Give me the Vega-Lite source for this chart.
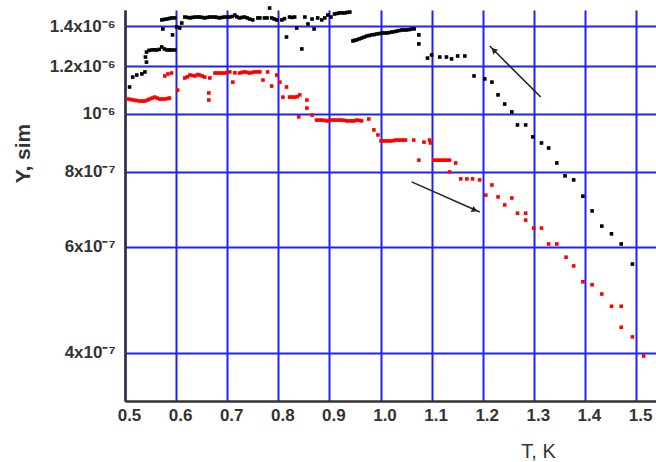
{
  "$schema": "https://vega.github.io/schema/vega-lite/v6.json",
  "autosize": {"type": "none"},
  "width": 531,
  "height": 391,
  "padding": {"left": 125, "top": 10, "right": 0, "bottom": 61},
  "background": "white",
  "config": {"view": {"stroke": null}},
  "datasets": {
    "pts": [
      {"s":"b","T":0.509,"Y":1.108e-6},{"s":"b","T":0.515,"Y":1.151e-6},{"s":"b","T":0.523,"Y":1.160e-6},{"s":"b","T":0.533,"Y":1.165e-6},{"s":"b","T":0.539,"Y":1.174e-6},
      {"s":"b","T":0.542,"Y":1.219e-6},{"s":"b","T":0.540,"Y":1.243e-6},{"s":"b","T":0.542,"Y":1.267e-6},{"s":"b","T":0.552,"Y":1.277e-6},{"s":"b","T":0.562,"Y":1.277e-6},
      {"s":"b","T":0.572,"Y":1.292e-6},{"s":"b","T":0.582,"Y":1.277e-6},{"s":"b","T":0.591,"Y":1.277e-6},{"s":"b","T":0.597,"Y":1.277e-6},
      {"s":"b","T":0.547,"Y":1.275e-6},{"s":"b","T":0.557,"Y":1.278e-6},{"s":"b","T":0.567,"Y":1.280e-6},{"s":"b","T":0.577,"Y":1.282e-6},{"s":"b","T":0.587,"Y":1.277e-6},
      {"s":"b","T":0.572,"Y":1.433e-6},{"s":"b","T":0.582,"Y":1.438e-6},{"s":"b","T":0.591,"Y":1.444e-6},{"s":"b","T":0.597,"Y":1.444e-6},{"s":"b","T":0.577,"Y":1.436e-6},{"s":"b","T":0.587,"Y":1.441e-6},
      {"s":"b","T":0.574,"Y":1.384e-6},{"s":"b","T":0.593,"Y":1.353e-6},{"s":"b","T":0.601,"Y":1.395e-6},{"s":"b","T":0.607,"Y":1.389e-6},{"s":"b","T":0.611,"Y":1.416e-6},
      {"s":"b","T":0.617,"Y":1.449e-6},{"s":"b","T":0.627,"Y":1.444e-6},{"s":"b","T":0.637,"Y":1.449e-6},{"s":"b","T":0.646,"Y":1.449e-6},{"s":"b","T":0.656,"Y":1.444e-6},
      {"s":"b","T":0.666,"Y":1.449e-6},{"s":"b","T":0.676,"Y":1.449e-6},{"s":"b","T":0.685,"Y":1.444e-6},{"s":"b","T":0.695,"Y":1.449e-6},{"s":"b","T":0.705,"Y":1.449e-6},
      {"s":"b","T":0.715,"Y":1.460e-6},{"s":"b","T":0.724,"Y":1.444e-6},{"s":"b","T":0.734,"Y":1.449e-6},{"s":"b","T":0.744,"Y":1.438e-6},{"s":"b","T":0.750,"Y":1.433e-6},
      {"s":"b","T":0.622,"Y":1.447e-6},{"s":"b","T":0.632,"Y":1.447e-6},{"s":"b","T":0.642,"Y":1.449e-6},{"s":"b","T":0.651,"Y":1.447e-6},{"s":"b","T":0.661,"Y":1.447e-6},
      {"s":"b","T":0.671,"Y":1.449e-6},{"s":"b","T":0.680,"Y":1.447e-6},{"s":"b","T":0.690,"Y":1.447e-6},{"s":"b","T":0.700,"Y":1.449e-6},{"s":"b","T":0.710,"Y":1.452e-6},
      {"s":"b","T":0.719,"Y":1.450e-6},{"s":"b","T":0.729,"Y":1.447e-6},{"s":"b","T":0.739,"Y":1.444e-6},
      {"s":"b","T":0.764,"Y":1.444e-6},{"s":"b","T":0.773,"Y":1.444e-6},{"s":"b","T":0.783,"Y":1.500e-6},{"s":"b","T":0.787,"Y":1.444e-6},{"s":"b","T":0.797,"Y":1.433e-6},
      {"s":"b","T":0.760,"Y":1.444e-6},{"s":"b","T":0.778,"Y":1.444e-6},{"s":"b","T":0.792,"Y":1.438e-6},{"s":"b","T":0.812,"Y":1.440e-6},{"s":"b","T":0.827,"Y":1.447e-6},
      {"s":"b","T":0.807,"Y":1.433e-6},{"s":"b","T":0.816,"Y":1.342e-6},{"s":"b","T":0.822,"Y":1.449e-6},{"s":"b","T":0.832,"Y":1.449e-6},{"s":"b","T":0.836,"Y":1.389e-6},
      {"s":"b","T":0.846,"Y":1.282e-6},{"s":"b","T":0.852,"Y":1.449e-6},{"s":"b","T":0.858,"Y":1.411e-6},{"s":"b","T":0.866,"Y":1.438e-6},{"s":"b","T":0.870,"Y":1.384e-6},
      {"s":"b","T":0.877,"Y":1.444e-6},{"s":"b","T":0.885,"Y":1.433e-6},{"s":"b","T":0.891,"Y":1.444e-6},{"s":"b","T":0.897,"Y":1.460e-6},{"s":"b","T":0.903,"Y":1.449e-6},
      {"s":"b","T":0.910,"Y":1.466e-6},{"s":"b","T":0.920,"Y":1.472e-6},{"s":"b","T":0.930,"Y":1.472e-6},{"s":"b","T":0.940,"Y":1.477e-6},
      {"s":"b","T":0.915,"Y":1.469e-6},{"s":"b","T":0.925,"Y":1.472e-6},{"s":"b","T":0.935,"Y":1.475e-6},
      {"s":"b","T":0.946,"Y":1.322e-6},{"s":"b","T":0.953,"Y":1.327e-6},{"s":"b","T":0.963,"Y":1.337e-6},{"s":"b","T":0.973,"Y":1.347e-6},{"s":"b","T":0.983,"Y":1.353e-6},
      {"s":"b","T":0.993,"Y":1.358e-6},{"s":"b","T":1.003,"Y":1.363e-6},{"s":"b","T":1.012,"Y":1.363e-6},{"s":"b","T":1.022,"Y":1.368e-6},{"s":"b","T":1.032,"Y":1.373e-6},
      {"s":"b","T":1.042,"Y":1.379e-6},{"s":"b","T":1.051,"Y":1.379e-6},{"s":"b","T":1.061,"Y":1.384e-6},{"s":"b","T":1.075,"Y":1.353e-6},{"s":"b","T":1.075,"Y":1.307e-6},
      {"s":"b","T":0.949,"Y":1.325e-6},{"s":"b","T":0.958,"Y":1.332e-6},{"s":"b","T":0.968,"Y":1.342e-6},{"s":"b","T":0.978,"Y":1.350e-6},{"s":"b","T":0.988,"Y":1.355e-6},
      {"s":"b","T":0.998,"Y":1.360e-6},{"s":"b","T":1.008,"Y":1.363e-6},{"s":"b","T":1.017,"Y":1.365e-6},{"s":"b","T":1.027,"Y":1.370e-6},{"s":"b","T":1.037,"Y":1.376e-6},
      {"s":"b","T":1.046,"Y":1.379e-6},{"s":"b","T":1.056,"Y":1.381e-6},{"s":"b","T":1.066,"Y":1.385e-6},
      {"s":"b","T":1.092,"Y":1.238e-6},{"s":"b","T":1.100,"Y":1.253e-6},{"s":"b","T":1.116,"Y":1.243e-6},{"s":"b","T":1.129,"Y":1.243e-6},{"s":"b","T":1.139,"Y":1.234e-6},
      {"s":"b","T":1.151,"Y":1.248e-6},{"s":"b","T":1.165,"Y":1.248e-6},{"s":"b","T":1.183,"Y":1.156e-6},{"s":"b","T":1.204,"Y":1.143e-6},{"s":"b","T":1.218,"Y":1.129e-6},
      {"s":"b","T":1.230,"Y":1.075e-6},{"s":"b","T":1.243,"Y":1.038e-6},{"s":"b","T":1.257,"Y":1.007e-6},{"s":"b","T":1.268,"Y":0.958e-6},{"s":"b","T":1.284,"Y":0.958e-6},
      {"s":"b","T":1.298,"Y":0.915e-6},{"s":"b","T":1.315,"Y":0.894e-6},{"s":"b","T":1.329,"Y":0.877e-6},{"s":"b","T":1.345,"Y":0.828e-6},{"s":"b","T":1.361,"Y":0.788e-6},
      {"s":"b","T":1.378,"Y":0.776e-6},{"s":"b","T":1.396,"Y":0.729e-6},{"s":"b","T":1.414,"Y":0.689e-6},{"s":"b","T":1.433,"Y":0.650e-6},{"s":"b","T":1.452,"Y":0.631e-6},
      {"s":"b","T":1.471,"Y":0.607e-6},{"s":"b","T":1.493,"Y":0.562e-6},
      {"s":"r","T":0.507,"Y":1.058e-6},{"s":"r","T":0.517,"Y":1.054e-6},{"s":"r","T":0.529,"Y":1.050e-6},{"s":"r","T":0.539,"Y":1.050e-6},{"s":"r","T":0.548,"Y":1.058e-6},
      {"s":"r","T":0.558,"Y":1.066e-6},{"s":"r","T":0.568,"Y":1.058e-6},{"s":"r","T":0.578,"Y":1.058e-6},{"s":"r","T":0.587,"Y":1.062e-6},{"s":"r","T":0.603,"Y":1.095e-6},
      {"s":"r","T":0.512,"Y":1.056e-6},{"s":"r","T":0.522,"Y":1.052e-6},{"s":"r","T":0.534,"Y":1.050e-6},{"s":"r","T":0.544,"Y":1.054e-6},{"s":"r","T":0.553,"Y":1.062e-6},
      {"s":"r","T":0.563,"Y":1.062e-6},{"s":"r","T":0.573,"Y":1.058e-6},{"s":"r","T":0.583,"Y":1.060e-6},
      {"s":"r","T":0.578,"Y":1.156e-6},{"s":"r","T":0.584,"Y":1.165e-6},{"s":"r","T":0.591,"Y":1.169e-6},{"s":"r","T":0.617,"Y":1.147e-6},{"s":"r","T":0.627,"Y":1.160e-6},
      {"s":"r","T":0.637,"Y":1.156e-6},{"s":"r","T":0.646,"Y":1.160e-6},{"s":"r","T":0.656,"Y":1.151e-6},{"s":"r","T":0.664,"Y":1.083e-6},{"s":"r","T":0.664,"Y":1.054e-6},
      {"s":"r","T":0.622,"Y":1.152e-6},{"s":"r","T":0.632,"Y":1.158e-6},{"s":"r","T":0.642,"Y":1.162e-6},{"s":"r","T":0.651,"Y":1.156e-6},
      {"s":"r","T":0.666,"Y":1.147e-6},{"s":"r","T":0.676,"Y":1.169e-6},{"s":"r","T":0.685,"Y":1.169e-6},{"s":"r","T":0.695,"Y":1.169e-6},{"s":"r","T":0.705,"Y":1.174e-6},
      {"s":"r","T":0.680,"Y":1.169e-6},{"s":"r","T":0.690,"Y":1.169e-6},{"s":"r","T":0.700,"Y":1.172e-6},{"s":"r","T":0.715,"Y":1.170e-6},{"s":"r","T":0.729,"Y":1.172e-6},
      {"s":"r","T":0.739,"Y":1.172e-6},{"s":"r","T":0.749,"Y":1.172e-6},{"s":"r","T":0.759,"Y":1.174e-6},
      {"s":"r","T":0.711,"Y":1.129e-6},{"s":"r","T":0.724,"Y":1.169e-6},{"s":"r","T":0.734,"Y":1.174e-6},{"s":"r","T":0.744,"Y":1.169e-6},{"s":"r","T":0.754,"Y":1.174e-6},
      {"s":"r","T":0.764,"Y":1.174e-6},{"s":"r","T":0.770,"Y":1.138e-6},{"s":"r","T":0.779,"Y":1.174e-6},{"s":"r","T":0.787,"Y":1.112e-6},{"s":"r","T":0.797,"Y":1.160e-6},
      {"s":"r","T":0.803,"Y":1.129e-6},{"s":"r","T":0.816,"Y":1.108e-6},{"s":"r","T":0.809,"Y":1.066e-6},{"s":"r","T":0.822,"Y":1.066e-6},{"s":"r","T":0.832,"Y":1.066e-6},
      {"s":"r","T":0.827,"Y":1.066e-6},{"s":"r","T":0.837,"Y":1.068e-6},
      {"s":"r","T":0.842,"Y":1.075e-6},{"s":"r","T":0.856,"Y":1.054e-6},{"s":"r","T":0.856,"Y":1.022e-6},{"s":"r","T":0.840,"Y":0.988e-6},{"s":"r","T":0.866,"Y":0.995e-6},
      {"s":"r","T":0.875,"Y":0.976e-6},{"s":"r","T":0.885,"Y":0.976e-6},{"s":"r","T":0.895,"Y":0.973e-6},{"s":"r","T":0.905,"Y":0.976e-6},{"s":"r","T":0.914,"Y":0.976e-6},
      {"s":"r","T":0.880,"Y":0.976e-6},{"s":"r","T":0.890,"Y":0.975e-6},{"s":"r","T":0.900,"Y":0.975e-6},{"s":"r","T":0.909,"Y":0.976e-6},{"s":"r","T":0.919,"Y":0.976e-6},
      {"s":"r","T":0.929,"Y":0.975e-6},{"s":"r","T":0.939,"Y":0.973e-6},{"s":"r","T":0.948,"Y":0.973e-6},{"s":"r","T":0.958,"Y":0.975e-6},
      {"s":"r","T":0.924,"Y":0.976e-6},{"s":"r","T":0.934,"Y":0.973e-6},{"s":"r","T":0.944,"Y":0.973e-6},{"s":"r","T":0.953,"Y":0.976e-6},{"s":"r","T":0.963,"Y":0.973e-6},
      {"s":"r","T":0.977,"Y":0.980e-6},{"s":"r","T":0.987,"Y":0.940e-6},{"s":"r","T":0.995,"Y":0.922e-6},{"s":"r","T":1.001,"Y":0.901e-6},{"s":"r","T":1.010,"Y":0.901e-6},
      {"s":"r","T":1.020,"Y":0.901e-6},{"s":"r","T":1.030,"Y":0.904e-6},{"s":"r","T":1.040,"Y":0.904e-6},{"s":"r","T":1.049,"Y":0.904e-6},{"s":"r","T":1.065,"Y":0.904e-6},
      {"s":"r","T":1.005,"Y":0.901e-6},{"s":"r","T":1.015,"Y":0.901e-6},{"s":"r","T":1.025,"Y":0.902e-6},{"s":"r","T":1.035,"Y":0.904e-6},{"s":"r","T":1.044,"Y":0.904e-6},
      {"s":"r","T":1.085,"Y":0.897e-6},{"s":"r","T":1.096,"Y":0.904e-6},{"s":"r","T":1.098,"Y":0.894e-6},{"s":"r","T":1.075,"Y":0.837e-6},{"s":"r","T":1.104,"Y":0.837e-6},
      {"s":"r","T":1.114,"Y":0.837e-6},{"s":"r","T":1.124,"Y":0.837e-6},{"s":"r","T":1.135,"Y":0.837e-6},{"s":"r","T":1.147,"Y":0.828e-6},{"s":"r","T":1.135,"Y":0.800e-6},
      {"s":"r","T":1.109,"Y":0.837e-6},{"s":"r","T":1.119,"Y":0.837e-6},{"s":"r","T":1.129,"Y":0.837e-6},
      {"s":"r","T":1.157,"Y":0.779e-6},{"s":"r","T":1.169,"Y":0.779e-6},{"s":"r","T":1.180,"Y":0.779e-6},{"s":"r","T":1.194,"Y":0.776e-6},{"s":"r","T":1.218,"Y":0.761e-6},
      {"s":"r","T":1.206,"Y":0.732e-6},{"s":"r","T":1.230,"Y":0.727e-6},{"s":"r","T":1.243,"Y":0.705e-6},{"s":"r","T":1.257,"Y":0.724e-6},{"s":"r","T":1.268,"Y":0.683e-6},
      {"s":"r","T":1.284,"Y":0.683e-6},{"s":"r","T":1.284,"Y":0.665e-6},{"s":"r","T":1.300,"Y":0.645e-6},{"s":"r","T":1.315,"Y":0.645e-6},{"s":"r","T":1.329,"Y":0.607e-6},
      {"s":"r","T":1.345,"Y":0.607e-6},{"s":"r","T":1.363,"Y":0.577e-6},{"s":"r","T":1.378,"Y":0.558e-6},{"s":"r","T":1.396,"Y":0.525e-6},{"s":"r","T":1.414,"Y":0.519e-6},
      {"s":"r","T":1.433,"Y":0.501e-6},{"s":"r","T":1.452,"Y":0.478e-6},{"s":"r","T":1.471,"Y":0.478e-6},{"s":"r","T":1.471,"Y":0.441e-6},{"s":"r","T":1.493,"Y":0.425e-6},
      {"s":"r","T":1.515,"Y":0.395e-6}
    ],
    "arrows": [
      {"id":1,"T":1.3135,"Y":1.066e-6},{"id":1,"T":1.2136,"Y":1.2967e-6},
      {"id":2,"T":1.061,"Y":0.770e-6},{"id":2,"T":1.1942,"Y":0.686e-6}
    ],
    "heads": [
      {"T":1.2214,"Y":1.277e-6,"ang":315},
      {"T":1.1844,"Y":0.691e-6,"ang":114}
    ]
  },
  "layer": [
    {
      "data": {"name": "pts"},
      "mark": {"type": "point", "shape": "square", "filled": true, "size": 13, "opacity": 1},
      "encoding": {
        "x": {
          "field": "T", "type": "quantitative",
          "scale": {"domain": [0.5, 1.5391], "nice": false, "zero": false},
          "axis": {
            "values": [0.5,0.6,0.7,0.8,0.9,1.0,1.1,1.2,1.3,1.4,1.5],
            "format": ".1f",
            "title": "T, K",
            "titleFont": "Liberation Sans", "titleFontSize": 20, "titleFontWeight": "normal", "titleColor": "#333",
            "titleX": 413, "titleY": 50, "titleBaseline": "middle", "titleAlign": "center",
            "labelFont": "Liberation Sans", "labelFontSize": 17, "labelFontWeight": "bold", "labelColor": "#333",
            "labelPadding": 6, "labelOffset": 4, "labelFlush": false,
            "ticks": false,
            "domainColor": "#333", "domainWidth": 2.5,
            "grid": true, "gridColor": "#2020ff", "gridWidth": 2, "gridOpacity": 1
          }
        },
        "y": {
          "field": "Y", "type": "quantitative",
          "scale": {"type": "log", "domain": [3.324e-7, 1.4886e-6], "nice": false, "zero": false},
          "axis": {
            "values": [4e-7, 6e-7, 8e-7, 1e-6, 1.2e-6, 1.4e-6],
            "labelExpr": "abs(datum.value-1e-6) < 1e-12 ? '10⁻⁶' : (datum.value > 9e-7 ? format(datum.value*1e6, '.1f') + 'x10⁻⁶' : format(datum.value*1e7, '.0f') + 'x10⁻⁷')",
            "title": "Y, sim",
            "titleFont": "Liberation Sans", "titleFontSize": 21, "titleFontWeight": "bold", "titleColor": "#333",
            "titleX": -102, "titleY": 143, "titleAngle": 270, "titleBaseline": "middle", "titleAlign": "center",
            "labelFont": "Liberation Sans", "labelFontSize": 17, "labelFontWeight": "bold", "labelColor": "#333",
            "labelPadding": 10,
            "ticks": false,
            "domainColor": "#333", "domainWidth": 2.5,
            "grid": true, "gridColor": "#2020ff", "gridWidth": 2, "gridOpacity": 1
          }
        },
        "color": {
          "field": "s", "type": "nominal",
          "scale": {"domain": ["b", "r"], "range": ["#000000", "#ff0000"]},
          "legend": null
        }
      }
    },
    {
      "data": {"name": "arrows"},
      "mark": {"type": "line", "color": "#222", "strokeWidth": 1.5},
      "encoding": {
        "x": {"field": "T", "type": "quantitative"},
        "y": {"field": "Y", "type": "quantitative"},
        "detail": {"field": "id", "type": "nominal"}
      }
    },
    {
      "data": {"name": "heads"},
      "mark": {"type": "point", "shape": "triangle-up", "filled": true, "color": "#222", "size": 45, "opacity": 1},
      "encoding": {
        "x": {"field": "T", "type": "quantitative"},
        "y": {"field": "Y", "type": "quantitative"},
        "angle": {"field": "ang", "type": "quantitative", "scale": null}
      }
    }
  ]
}
